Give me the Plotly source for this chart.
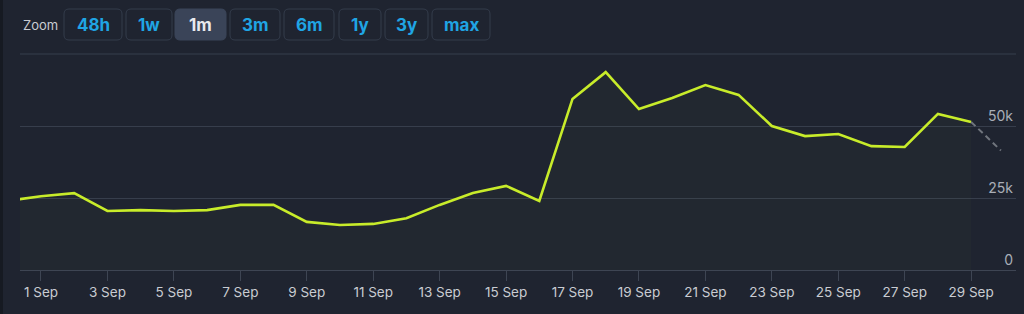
import plotly.graph_objects as go

# ---- data ----
dates = ["2024-08-31", "2024-09-01", "2024-09-02", "2024-09-03", "2024-09-04", "2024-09-05",
         "2024-09-06", "2024-09-07", "2024-09-08", "2024-09-09", "2024-09-10", "2024-09-11",
         "2024-09-12", "2024-09-13", "2024-09-14", "2024-09-15", "2024-09-16", "2024-09-17",
         "2024-09-18", "2024-09-19", "2024-09-20", "2024-09-21", "2024-09-22", "2024-09-23",
         "2024-09-24", "2024-09-25", "2024-09-26", "2024-09-27", "2024-09-28", "2024-09-29"]
values = [24000, 25600, 26700, 20500, 20800, 20500, 20800, 22600, 22600, 16700, 15600, 16000,
          18000, 22600, 26700, 29200, 24000, 59400, 68700, 55900, 59700, 64200, 60800, 50000,
          46500, 47200, 43000, 42700, 54200, 51400]
partial_dates = ["2024-09-29", "2024-09-29 21:30"]
partial_values = [51400, 41500]

y_ticks = [0, 25000, 50000]
y_ticktext = ["0", "25k", "50k"]
y_top_grid = 75000
y_range = [0, 75347]
x_range = ["2024-08-31 08:50", "2024-09-30 08:25"]
zoom_buttons = ["48h", "1w", "1m", "3m", "6m", "1y", "3y", "max"]
selected_button = "1m"

# ---- layout constants ----
W, H = 1024, 314
ML, MR, MT, MB = 20, 8, 53, 44
PW, PH = W - ML - MR, H - MT - MB
BG = "#1f2430"
GRID = "#373e4c"
FONT = "Inter, Roboto, sans-serif"

def px(x):
    return (x - ML) / PW

def py(y):
    return (H - MB - y) / PH

fig = go.Figure()
fig.add_trace(go.Scatter(
    x=dates, y=values, mode="lines",
    line=dict(color="#c8ec2a", width=2.6),
    fill="tozeroy", fillcolor="rgba(200,236,42,0.018)",
    hoverinfo="skip", showlegend=False))
fig.add_trace(go.Scatter(
    x=partial_dates, y=partial_values, mode="lines",
    line=dict(color="#70757d", width=2, dash="6px,4px"),
    hoverinfo="skip", showlegend=False))

shapes = []
annotations = []

# top gridline
shapes.append(dict(type="line", xref="paper", yref="y", x0=0, x1=1, y0=y_top_grid, y1=y_top_grid,
                   line=dict(color=GRID, width=1), layer="below"))

# left darker strip
shapes.append(dict(type="rect", xref="paper", yref="paper", x0=px(0), x1=px(3), y0=py(314), y1=py(0),
                   fillcolor="#161a22", line=dict(width=0), layer="below"))

# zoom buttons
button_x = [(64, 122), (126, 172), (175, 226), (230, 280), (284, 334), (339, 381), (385, 428), (432, 490)]
y0b, y1b = 9, 40
r = 5

def rounded(x0, x1, y0, y1, r):
    X0, X1 = px(x0), px(x1)
    Y0, Y1 = py(y1), py(y0)  # bottom, top in paper
    rx, ry = r / PW, r / PH
    return (f"M {X0+rx},{Y1} L {X1-rx},{Y1} Q {X1},{Y1} {X1},{Y1-ry} "
            f"L {X1},{Y0+ry} Q {X1},{Y0} {X1-rx},{Y0} L {X0+rx},{Y0} "
            f"Q {X0},{Y0} {X0},{Y0+ry} L {X0},{Y1-ry} Q {X0},{Y1} {X0+rx},{Y1} Z")

for lbl, (a, b) in zip(zoom_buttons, button_x):
    sel = lbl == selected_button
    shapes.append(dict(type="path", xref="paper", yref="paper", path=rounded(a, b, y0b, y1b, r),
                       fillcolor="#3a4458" if sel else BG,
                       line=dict(color="#3a4458" if sel else "#343c4b", width=1)))
    annotations.append(dict(xref="paper", yref="paper", x=px((a + b) / 2), y=py((y0b + y1b) / 2 + 0.5),
                            text=f"<b>{lbl}</b>", showarrow=False, xanchor="center", yanchor="middle",
                            font=dict(family=FONT, size=17, color="#e8eaee" if sel else "#1fa5e4")))

annotations.append(dict(xref="paper", yref="paper", x=px(40), y=py(25), text="Zoom", showarrow=False,
                        xanchor="center", yanchor="middle",
                        font=dict(family=FONT, size=13, color="#c9ccd2")))

fig.update_layout(
    width=W, height=H,
    margin=dict(l=ML, r=MR, t=MT, b=MB),
    paper_bgcolor=BG, plot_bgcolor=BG,
    shapes=shapes, annotations=annotations,
    xaxis=dict(
        type="date", range=x_range,
        tickmode="linear", tick0="2024-09-01", dtick=2 * 86400000,
        tickformat="%-d %b", ticks="outside", ticklen=10, tickcolor="#3e4553", tickwidth=1,
        showgrid=False, showline=True, linecolor="#3e4553", linewidth=1,
        tickfont=dict(family=FONT, size=13.5, color="#c9ccd2"),
        zeroline=False, fixedrange=True),
    yaxis=dict(
        range=y_range, side="right", tickvals=y_ticks, ticktext=y_ticktext,
        ticklabelposition="inside top", showgrid=True, gridcolor=GRID, gridwidth=1,
        zeroline=False, showline=False,
        tickfont=dict(family=FONT, size=14, color="#a9aeb7"), fixedrange=True),
)

fig.write_html("out.html")
